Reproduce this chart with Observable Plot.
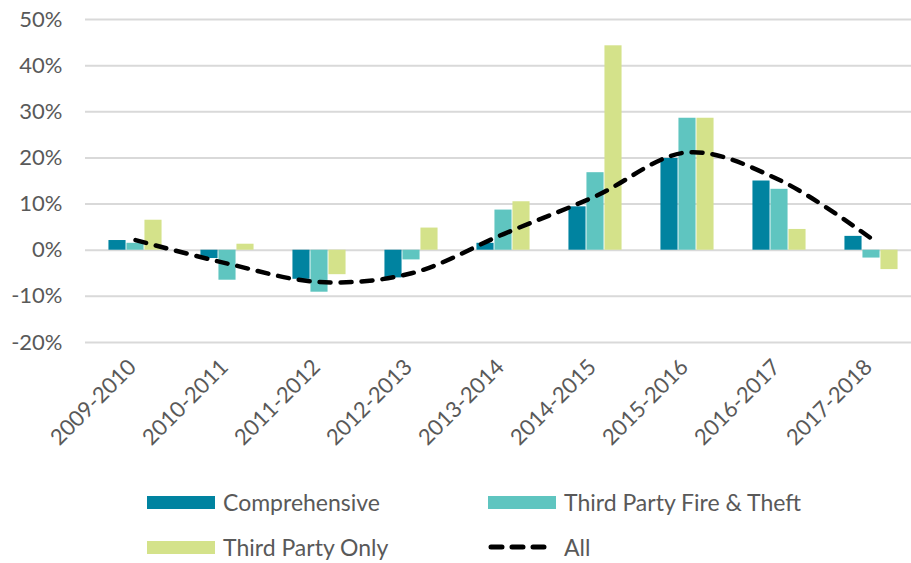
<!DOCTYPE html>
<html>
<head>
<meta charset="utf-8">
<script src="https://cdn.jsdelivr.net/npm/d3@7"></script>
<script src="https://cdn.jsdelivr.net/npm/@observablehq/plot@0.6"></script>
<style>
  html, body { margin: 0; padding: 0; background: #fff; }
  body { width: 911px; height: 563px; overflow: hidden; font-family: Lato, "Open Sans", sans-serif; }
  #legend { position: relative; height: 93px; font-family: Lato, sans-serif; font-size: 23px; color: #595959; }
  .item { position: absolute; display: flex; align-items: center; height: 30px; }
  .sw { width: 68px; height: 13px; margin-right: 8px; }
</style>
</head>
<body>
<div id="chart"></div>
<div id="legend"></div>
<script>
const categories = ["2009-2010","2010-2011","2011-2012","2012-2013","2013-2014","2014-2015","2015-2016","2016-2017","2017-2018"];
const comprehensive = [2.1, -1.8, -6.3, -6.0, 1.5, 9.4, 19.9, 15.0, 3.0];
const thirdPartyFireTheft = [1.5, -6.5, -9.1, -2.1, 8.7, 16.8, 28.6, 13.2, -1.7];
const thirdPartyOnly = [6.5, 1.3, -5.3, 4.8, 10.5, 44.3, 28.6, 4.5, -4.2];
const all = [2.2, -2.9, -6.9, -5.0, 3.5, 11.7, 21.2, 15.2, 2.5];
const yTicks = [-20, -10, 0, 10, 20, 30, 40, 50];
const seriesNames = ["Comprehensive", "Third Party Fire & Theft", "Third Party Only", "All"];
const colors = ["#0083a0", "#5fc5c0", "#d4e28a", "#000000"];

const barSeries = [comprehensive, thirdPartyFireTheft, thirdPartyOnly];
const barW = 18;
const step = 836 / categories.length;
const inset = (step - barW) / 2;

const rows = categories.map((c, i) => ({cat: c, all: all[i]}));

const barMarks = barSeries.map((vals, s) =>
  Plot.barY(categories.map((c, i) => ({cat: c, v: vals[i]})), {
    x: "cat", y: "v", fill: colors[s],
    insetLeft: inset, insetRight: inset, dx: (s - 1) * barW
  })
);

const chart = Plot.plot({
  width: 911,
  height: 470,
  marginLeft: 85,
  marginRight: 0,
  marginTop: 19,
  marginBottom: 128,
  style: {fontFamily: "Lato, sans-serif", fontSize: "22px", color: "#595959", background: "#fff"},
  x: {domain: categories, range: [85, 921], padding: 0, label: null},
  y: {domain: [-20, 50], label: null},
  marks: [
    Plot.ruleY(yTicks, {stroke: "#d9d9d9", strokeWidth: 2}),
    ...barMarks,
    Plot.line(rows, {x: "cat", y: "all", stroke: "#000", strokeWidth: 4.5, strokeDasharray: "11,10", strokeLinecap: "round", curve: "catmull-rom"}),
    Plot.axisY({ticks: yTicks, tickFormat: d => d + "%", tickSize: 0, tickPadding: 23, fontSize: 22, fill: "#595959"}),
    Plot.axisX({tickSize: 0, tickRotate: -45, tickPadding: 21, dx: -3, fontSize: 22, fill: "#595959"})
  ]
});
document.getElementById("chart").appendChild(chart);

const legend = document.getElementById("legend");
const pos = [[147, 0], [488, 0], [147, 45], [488, 45]];
seriesNames.forEach((name, i) => {
  const item = document.createElement("div");
  item.className = "item";
  item.style.left = pos[i][0] + "px";
  item.style.top = (pos[i][1] + 17) + "px";
  let sw;
  if (i < 3) {
    sw = `<div class="sw" style="background:${colors[i]}"></div>`;
  } else {
    sw = `<svg width="68" height="14" style="margin-right:8px"><line x1="3" y1="7" x2="58" y2="7" stroke="#000" stroke-width="5" stroke-dasharray="11,10" stroke-linecap="round"/></svg>`;
  }
  item.innerHTML = sw + `<span>${name}</span>`;
  legend.appendChild(item);
});
</script>
</body>
</html>
